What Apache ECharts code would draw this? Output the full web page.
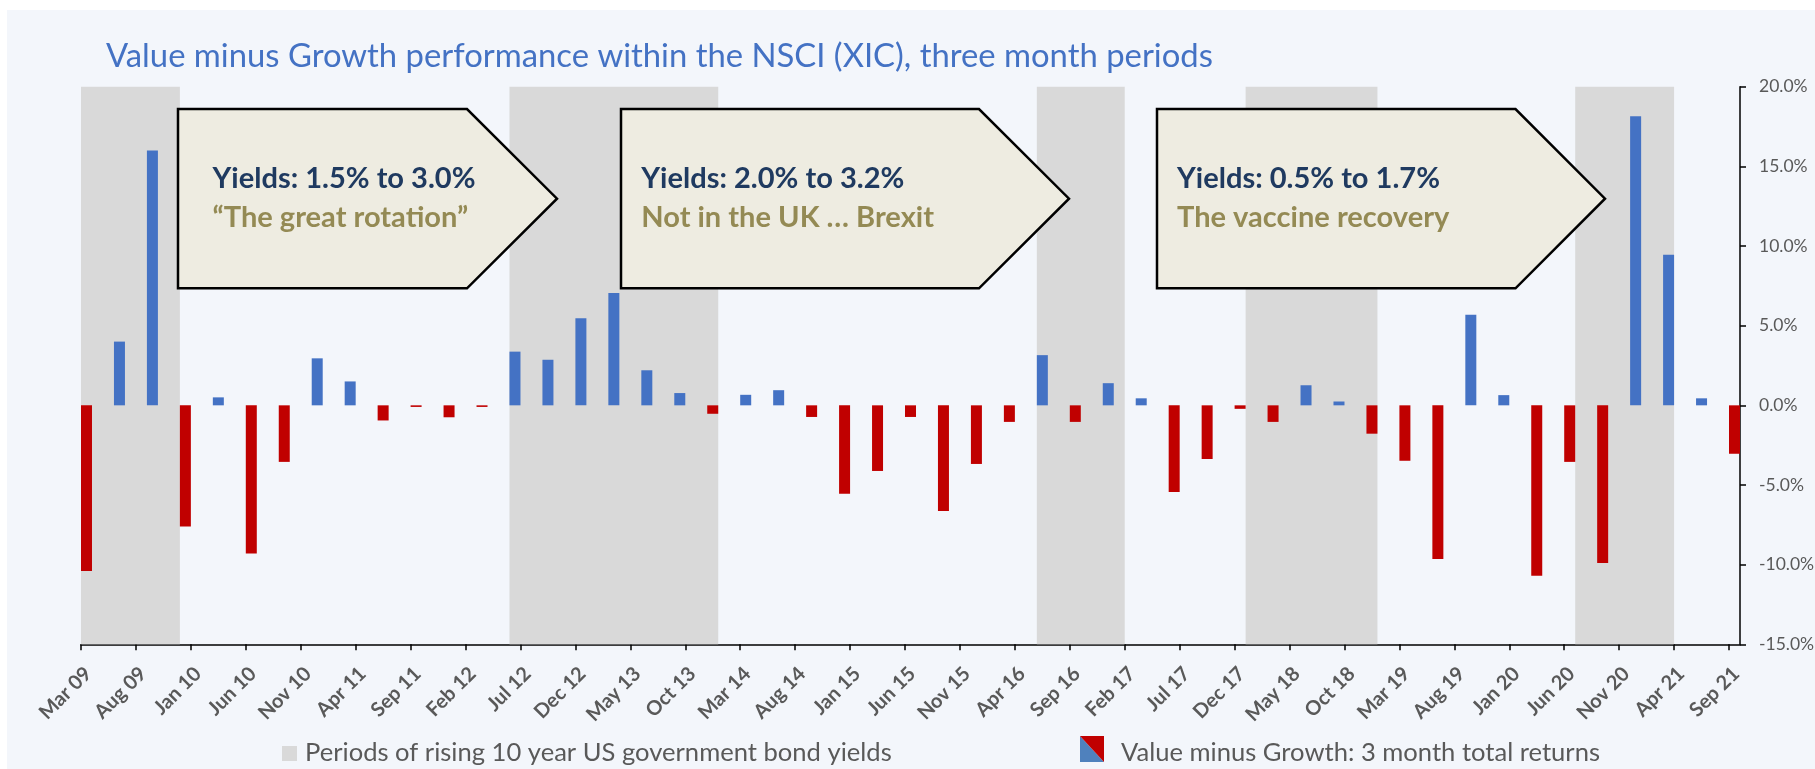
<!DOCTYPE html>
<html><head><meta charset="utf-8">
<script src="https://cdn.jsdelivr.net/npm/echarts@6/dist/echarts.min.js"></script>
<style>
html,body{margin:0;padding:0;background:#ffffff;}
#bg{position:absolute;left:7px;top:10px;width:1808px;height:759px;background:#F3F6FB;}
#c{position:absolute;left:0;top:0;width:1815px;height:769px;}
</style>
</head><body><div id="bg"></div><div id="c"></div>
<script>
// ---------- data ----------
const quarters = ['Mar 09','Jun 09','Sep 09','Dec 09','Mar 10','Jun 10','Sep 10','Dec 10','Mar 11','Jun 11','Sep 11','Dec 11',
  'Mar 12','Jun 12','Sep 12','Dec 12','Mar 13','Jun 13','Sep 13','Dec 13','Mar 14','Jun 14','Sep 14','Dec 14',
  'Mar 15','Jun 15','Sep 15','Dec 15','Mar 16','Jun 16','Sep 16','Dec 16','Mar 17','Jun 17','Sep 17','Dec 17',
  'Mar 18','Jun 18','Sep 18','Dec 18','Mar 19','Jun 19','Sep 19','Dec 19','Mar 20','Jun 20','Sep 20','Dec 20',
  'Mar 21','Jun 21','Sep 21'];
const valueMinusGrowth = [-10.4, 4.0, 16.0, -7.6, 0.5, -9.3, -3.55, 2.95, 1.5, -0.95, -0.1, -0.75,
  -0.1, 3.37, 2.86, 5.46, 7.05, 2.2, 0.77, -0.53, 0.66, 0.95, -0.73, -5.55,
  -4.12, -0.73, -6.63, -3.68, -1.04, 3.15, -1.04, 1.39, 0.44, -5.44, -3.37, -0.22,
  -1.04, 1.26, 0.24, -1.78, -3.48, -9.65, 5.68, 0.64, -10.7, -3.55, -9.89, 18.15,
  9.45, 0.44, -3.04];
const tickLabels = ['Mar 09','Aug 09','Jan 10','Jun 10','Nov 10','Apr 11','Sep 11','Feb 12','Jul 12','Dec 12','May 13',
  'Oct 13','Mar 14','Aug 14','Jan 15','Jun 15','Nov 15','Apr 16','Sep 16','Feb 17','Jul 17','Dec 17','May 18',
  'Oct 18','Mar 19','Aug 19','Jan 20','Jun 20','Nov 20','Apr 21','Sep 21'];
// periods of rising 10y US yields: first month, first month after
const bandStart = ['Mar 09','Jun 12','Jun 16','Jan 18','Jul 20'];
const bandEnd   = ['Dec 09','Jan 14','Feb 17','Jan 19','Apr 21'];
const yTicks = [-15, -10, -5, 0, 5, 10, 15, 20];
const titleText = 'Value minus Growth performance within the NSCI (XIC), three month periods';
const calloutLine1 = ['Yields: 1.5% to 3.0%', 'Yields: 2.0% to 3.2%', 'Yields: 0.5% to 1.7%'];
const calloutLine2 = ['\u201CThe great rotation\u201D', 'Not in the UK \u2026 Brexit', 'The vaccine recovery'];
const legendBands = 'Periods of rising 10 year US government bond yields';
const legendBars = 'Value minus Growth: 3 month total returns';

// ---------- helpers ----------
const MONTHS = ['Jan','Feb','Mar','Apr','May','Jun','Jul','Aug','Sep','Oct','Nov','Dec'];
const baseM = (2009) * 12 + 2;
function monthIndex(lbl){ const p = lbl.split(' '); return (2000 + (+p[1])) * 12 + MONTHS.indexOf(p[0]) - baseM; }
const ctx = document.createElement('canvas').getContext('2d');
function fit(text, weight, family, target){ ctx.font = weight + ' 100px ' + family; return 100 * target / ctx.measureText(text).width; }

const FONT = 'Lato';
const xMin = monthIndex(quarters[0]);
const xMax = monthIndex(quarters[quarters.length - 1]) + 1;
const tickVals = tickLabels.map(monthIndex);
const barData = quarters.map((q, i) => [monthIndex(q) + 0.5, valueMinusGrowth[i]]);
const bandData = bandStart.map((s, i) => [monthIndex(s), monthIndex(bandEnd[i])]);
const yMin = yTicks[0], yMax = yTicks[yTicks.length - 1];

const titleSize = fit(titleText, 'normal', FONT, 1107);
const boxSize = fit(calloutLine1[0], 'bold', FONT, 263);
const legendSize = fit(legendBands, 'normal', FONT, 587);

// ---------- callout layout (pixels) ----------
const boxLeft = [178, 621, 1157], boxBody = [467, 979, 1515.5], boxTip = [557, 1069, 1605];
const boxTextX = [212.5, 641.3, 1177];
const boxTop = 109, boxBottom = 288.3;
const graphics = [];
boxLeft.forEach((l, i) => {
  const mid = (boxTop + boxBottom) / 2;
  graphics.push({type:'polygon', z:100, shape:{points:[[l,boxTop],[boxBody[i],boxTop],[boxTip[i],mid],[boxBody[i],boxBottom],[l,boxBottom]]},
    style:{fill:'#EEECE1', stroke:'#000', lineWidth:2.5, lineJoin:'miter'}});
  graphics.push({type:'text', z:101, x:boxTextX[i], y:178.8, style:{text:calloutLine1[i], fill:'#1F3A60', font:'bold ' + boxSize.toFixed(2) + 'px ' + FONT, textAlign:'left', textVerticalAlign:'middle'}});
  graphics.push({type:'text', z:101, x:boxTextX[i], y:217.5, style:{text:calloutLine2[i], fill:'#948A54', font:'bold ' + boxSize.toFixed(2) + 'px ' + FONT, textAlign:'left', textVerticalAlign:'middle'}});
});
graphics.push({type:'text', z:100, x:106, y:56, style:{text:titleText, fill:'#4472C4', font:'normal ' + titleSize.toFixed(2) + 'px ' + FONT, textAlign:'left', textVerticalAlign:'middle'}});
graphics.push({type:'rect', z:100, shape:{x:282, y:746, width:15, height:15}, style:{fill:'#D9D9D9'}});
graphics.push({type:'text', z:100, x:305, y:753, style:{text:legendBands, fill:'#595959', font:'normal ' + legendSize.toFixed(2) + 'px ' + FONT, textAlign:'left', textVerticalAlign:'middle'}});
graphics.push({type:'polygon', z:100, shape:{points:[[1080,736],[1080,762],[1104,762]]}, style:{fill:'#4F81BD'}});
graphics.push({type:'polygon', z:100, shape:{points:[[1080,736],[1104,736],[1104,762]]}, style:{fill:'#C00000'}});
graphics.push({type:'text', z:100, x:1121, y:753, style:{text:legendBars, fill:'#595959', font:'normal ' + legendSize.toFixed(2) + 'px ' + FONT, textAlign:'left', textVerticalAlign:'middle'}});

const chart = echarts.init(document.getElementById('c'), null, {renderer:'canvas'});
chart.setOption({
  backgroundColor: 'transparent',
  animation: false,
  grid: {left: 81, right: 75, top: 86.7, bottom: 124.7, outerBoundsMode: 'none', containLabel: false},
  xAxis: {
    type: 'value', min: xMin, max: xMax, interval: 5,
    axisLine: {show: true, onZero: false, lineStyle: {color: '#000', width: 1.5}},
    axisTick: {show: true, length: 6, customValues: tickVals, lineStyle: {color: '#000', width: 1.5}},
    axisLabel: {customValues: tickVals, rotate: 45, margin: 19, verticalAlign: 'top', color: '#595959', fontFamily: FONT, fontWeight: 'bold', fontSize: 20,
      formatter: v => { const k = tickVals.indexOf(v); return k >= 0 ? tickLabels[k] : ''; }},
    splitLine: {show: false}
  },
  yAxis: {
    type: 'value', position: 'right', min: yMin, max: yMax, interval: 5,
    axisLine: {show: true, onZero: false, lineStyle: {color: '#000', width: 1.5}},
    axisTick: {show: true, length: 6, lineStyle: {color: '#000', width: 1.5}},
    axisLabel: {margin: 19, color: '#595959', fontFamily: FONT, fontSize: 17.5, formatter: v => v.toFixed(1) + '%'},
    splitLine: {show: false}
  },
  series: [
    {type: 'custom', z: 1, silent: true, data: bandData, encode: {x: [0, 1]},
      renderItem: (params, api) => {
        const p0 = api.coord([api.value(0), yMax]);
        const p1 = api.coord([api.value(1), yMin]);
        return {type: 'rect', shape: {x: p0[0], y: p0[1], width: p1[0] - p0[0], height: p1[1] - p0[1]}, style: {fill: '#D9D9D9'}};
      }},
    {type: 'bar', z: 2, data: barData, barWidth: 11, silent: true,
      itemStyle: {color: p => p.value[1] >= 0 ? '#4472C4' : '#C00000'}}
  ],
  graphic: graphics
});
</script>
</body></html>
